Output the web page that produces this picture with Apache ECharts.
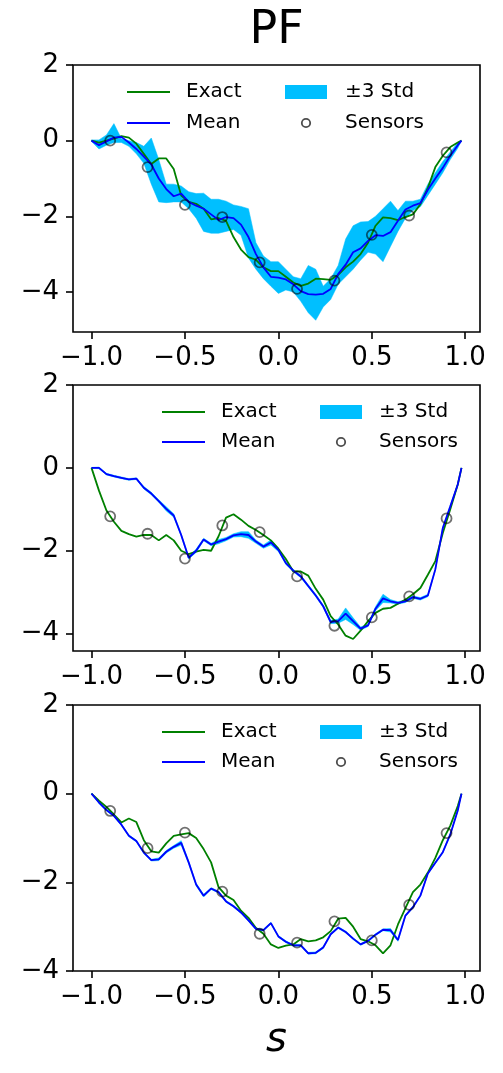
<!DOCTYPE html>
<html><head><meta charset="utf-8">
<script src="https://cdn.jsdelivr.net/npm/echarts@6/dist/echarts.min.js"></script>
<style>html,body{margin:0;padding:0;background:#fff}#c{width:503px;height:1073px}</style>
</head><body><div id="c"></div>
<script>
const xs = [-1,-0.96,-0.92,-0.88,-0.84,-0.8,-0.76,-0.72,-0.68,-0.64,-0.6,-0.56,-0.52,-0.48,-0.44,-0.4,-0.36,-0.32,-0.28,-0.24,-0.2,-0.16,-0.12,-0.08,-0.04,0,0.04,0.08,0.12,0.16,0.2,0.24,0.28,0.32,0.36,0.4,0.44,0.48,0.52,0.56,0.6,0.64,0.68,0.72,0.76,0.8,0.84,0.88,0.92,0.96,0.98];
const sensorX = [-0.9,-0.7,-0.5,-0.3,-0.1,0.1,0.3,0.5,0.7,0.9];
const xTicks = [-1,-0.5,0,0.5,1];
const yTicks = [2,0,-2,-4];

// Panel 1
const exact1 = [0,-0.05,0.0,0.05,0.12,0.08,-0.08,-0.35,-0.62,-0.47,
 -0.47,-0.75,-1.45,-1.62,-1.67,-1.80,-2.08,-2.05,-2.12,-2.55,
 -2.88,-3.08,-3.15,-3.35,-3.45,-3.45,-3.60,-3.75,-3.84,-3.78,
 -3.65,-3.66,-3.68,-3.55,-3.35,-3.20,-3.00,-2.70,-2.25,-2.03,
 -2.05,-2.10,-2.02,-1.95,-1.68,-1.25,-0.70,-0.40,-0.17,-0.05,0];
const mean1 = [0,-0.12,-0.02,0.08,0.10,-0.05,-0.22,-0.42,-0.63,-1.00,
 -1.28,-1.47,-1.40,-1.62,-1.72,-1.80,-1.95,-2.10,-2.02,-2.05,
 -2.22,-2.55,-3.00,-3.35,-3.60,-3.62,-3.67,-3.80,-3.98,-4.06,
 -4.07,-4.05,-3.92,-3.53,-3.28,-2.95,-2.85,-2.65,-2.50,-2.52,
 -2.42,-2.12,-1.82,-1.72,-1.65,-1.30,-1.00,-0.72,-0.40,-0.12,0];
const upper1 = [0.02,0.02,0.15,0.45,0.05,0.0,-0.05,-0.15,0.07,-0.50,
 -1.15,-1.15,-1.20,-1.35,-1.40,-1.39,-1.55,-1.55,-1.60,-1.70,
 -1.74,-1.80,-2.70,-3.05,-3.20,-3.20,-3.40,-3.60,-3.65,-3.30,
 -3.40,-3.85,-3.65,-3.30,-2.60,-2.25,-2.15,-2.14,-2.00,-1.80,
 -1.60,-1.85,-1.60,-1.60,-1.55,-1.15,-0.85,-0.55,-0.30,-0.05,0];
const lower1 = [-0.02,-0.22,-0.12,-0.05,-0.05,-0.15,-0.35,-0.60,-1.15,-1.62,
 -1.64,-1.62,-1.62,-1.80,-2.05,-2.40,-2.45,-2.45,-2.40,-2.35,
 -2.50,-3.10,-3.40,-3.65,-3.85,-4.04,-3.95,-4.00,-4.25,-4.55,
 -4.75,-4.40,-4.20,-3.80,-3.60,-3.40,-3.16,-2.95,-3.00,-3.20,
 -2.80,-2.40,-2.05,-1.85,-1.75,-1.45,-1.15,-0.85,-0.50,-0.20,0];
const sensors1 = [0.0,-0.70,-1.70,-2.02,-3.22,-3.92,-3.70,-2.49,-1.98,-0.31];

// Panel 2
const exact2 = [0,-0.55,-1.03,-1.30,-1.52,-1.60,-1.66,-1.62,-1.62,-1.75,
 -1.62,-1.75,-2.00,-2.08,-2.02,-1.98,-2.00,-1.65,-1.20,-1.12,
 -1.25,-1.40,-1.50,-1.62,-1.75,-1.95,-2.20,-2.50,-2.50,-2.60,
 -2.92,-3.18,-3.58,-3.78,-4.05,-4.13,-3.93,-3.70,-3.50,-3.40,
 -3.38,-3.28,-3.18,-3.05,-2.90,-2.58,-2.25,-1.57,-1.00,-0.40,0];
const mean2 = [0,0.0,-0.15,-0.20,-0.24,-0.28,-0.26,-0.48,-0.62,-0.80,
 -0.99,-1.15,-1.62,-2.17,-2.00,-1.73,-1.85,-1.78,-1.72,-1.63,
 -1.60,-1.62,-1.78,-1.90,-1.80,-1.98,-2.30,-2.48,-2.62,-2.85,
 -3.08,-3.34,-3.72,-3.70,-3.52,-3.70,-3.88,-3.80,-3.40,-3.15,
 -3.22,-3.26,-3.22,-3.12,-3.16,-3.08,-2.45,-1.45,-0.93,-0.40,0];
const halfBand2 = [0.01,0.02,0.02,0.02,0.02,0.02,0.02,0.03,0.03,0.03,
 0.05,0.04,0.03,0.03,0.04,0.03,0.03,0.05,0.04,0.04,
 0.06,0.08,0.04,0.04,0.06,0.04,0.03,0.03,0.03,0.03,
 0.03,0.03,0.04,0.05,0.14,0.08,0.04,0.03,0.05,0.10,
 0.04,0.03,0.03,0.03,0.03,0.03,0.03,0.03,0.03,0.02,0];
const sensors2 = [-1.17,-1.59,-2.19,-1.39,-1.55,-2.62,-3.81,-3.61,-3.10,-1.22];

// Panel 3
const exact3 = [0,-0.16,-0.30,-0.47,-0.65,-0.56,-0.64,-1.05,-1.30,-1.33,
 -1.12,-0.95,-0.92,-0.89,-1.00,-1.25,-1.55,-2.11,-2.30,-2.40,
 -2.64,-2.80,-3.03,-3.16,-3.40,-3.48,-3.43,-3.40,-3.28,-3.33,
 -3.31,-3.24,-3.10,-2.82,-2.80,-3.00,-3.28,-3.33,-3.42,-3.60,
 -3.42,-2.95,-2.58,-2.22,-2.05,-1.78,-1.45,-1.05,-0.72,-0.28,0];
const mean3 = [0,-0.20,-0.37,-0.50,-0.70,-0.95,-1.07,-1.33,-1.50,-1.48,
 -1.31,-1.20,-1.11,-1.55,-2.05,-2.30,-2.14,-2.22,-2.43,-2.54,
 -2.68,-2.86,-3.05,-3.08,-2.92,-3.22,-3.34,-3.42,-3.42,-3.60,
 -3.59,-3.47,-3.17,-3.02,-3.12,-3.27,-3.40,-3.32,-3.18,-3.07,
 -3.08,-3.30,-2.75,-2.56,-2.30,-1.80,-1.56,-1.32,-0.92,-0.38,0];
const halfBand3 = [0.01,0.02,0.02,0.02,0.02,0.02,0.02,0.02,0.02,0.03,
 0.03,0.03,0.05,0.03,0.03,0.03,0.02,0.02,0.02,0.02,
 0.02,0.02,0.02,0.02,0.02,0.02,0.02,0.02,0.02,0.02,
 0.02,0.02,0.02,0.02,0.02,0.02,0.02,0.02,0.02,0.02,
 0.04,0.03,0.02,0.02,0.02,0.02,0.02,0.02,0.02,0.02,0];
const sensors3 = [-0.39,-1.23,-0.88,-2.21,-3.16,-3.36,-2.88,-3.31,-2.51,-0.89];

const FONT = '"DejaVu Sans", sans-serif';
const panels = [
  {top:65, height:267, ymin:-5.06, ymax:2, exact:exact1, mean:mean1,
   hi:upper1, lo:lower1, sensors:sensors1,
   leg:{lx0:127,lx1:170,tx:186,rx0:285,rx1:327,cx:306,t2x:345,r1:92,r2:123}},
  {top:385, height:266, ymin:-4.42, ymax:2, exact:exact2, mean:mean2,
   hi:mean2.map((m,i)=>m+halfBand2[i]), lo:mean2.map((m,i)=>m-halfBand2[i]), sensors:sensors2,
   leg:{lx0:162,lx1:205,tx:221,rx0:320,rx1:362,cx:341,t2x:379,r1:412,r2:442}},
  {top:705, height:266, ymin:-4, ymax:2, exact:exact3, mean:mean3,
   hi:mean3.map((m,i)=>m+halfBand3[i]), lo:mean3.map((m,i)=>m-halfBand3[i]), sensors:sensors3,
   leg:{lx0:162,lx1:205,tx:221,rx0:320,rx1:362,cx:341,t2x:379,r1:732,r2:762}}
];

const fmtX = v => (v < 0 ? '\u2212' : '') + Math.abs(v).toFixed(1);
const fmtY = v => (v < 0 ? '\u2212' : '') + Math.abs(v).toFixed(0);

const grid = [], xAxis = [], yAxis = [], series = [], graphic = [];
panels.forEach((p, i) => {
  grid.push({left:73, top:p.top, width:407, height:p.height, show:true,
    borderColor:'#000', borderWidth:1.6, backgroundColor:'transparent'});
  const xa = {type:'value', gridIndex:i, min:-1.099, max:1.079, position:'bottom',
    axisLine:{show:false, onZero:false}, splitLine:{show:false},
    axisTick:{show:true, length:7, customValues:xTicks, lineStyle:{color:'#000', width:1.6}},
    axisLabel:{customValues:xTicks, formatter:fmtX, fontSize:26, color:'#000', margin:13, fontFamily:FONT}};
  if (i === 2) {
    xa.name = 's'; xa.nameLocation = 'middle'; xa.nameGap = 50;
    xa.nameTextStyle = {fontSize:40, fontStyle:'italic', fontFamily:FONT, color:'#000'};
  }
  xAxis.push(xa);
  yAxis.push({type:'value', gridIndex:i, min:p.ymin, max:p.ymax, position:'left',
    axisLine:{show:false, onZero:false}, splitLine:{show:false},
    axisTick:{show:true, length:7, customValues:yTicks, lineStyle:{color:'#000', width:1.6}},
    axisLabel:{customValues:yTicks, formatter:fmtY, fontSize:26, color:'#000', margin:14, fontFamily:FONT}});
  const bandData = xs.map((x,k)=>[x, p.lo[k], p.hi[k]]);
  series.push({type:'custom', xAxisIndex:i, yAxisIndex:i, silent:true, z:1,
    data: bandData, encode:{x:0, y:[1,2]},
    renderItem: (params, api) => {
      if (params.dataIndex !== 0) return null;
      const pts = [];
      for (let k = 0; k < bandData.length; k++) pts.push(api.coord([bandData[k][0], bandData[k][2]]));
      for (let k = bandData.length - 1; k >= 0; k--) pts.push(api.coord([bandData[k][0], bandData[k][1]]));
      return {type:'polygon', shape:{points:pts}, style:{fill:'#00bfff', stroke:'#00bfff', lineWidth:0.5}};
    }});
  series.push({type:'line', xAxisIndex:i, yAxisIndex:i, showSymbol:false, symbol:'none', silent:true, z:2,
    data: xs.map((x,k)=>[x, p.exact[k]]), lineStyle:{color:'#008000', width:1.8}});
  series.push({type:'line', xAxisIndex:i, yAxisIndex:i, showSymbol:false, symbol:'none', silent:true, z:3,
    data: xs.map((x,k)=>[x, p.mean[k]]), lineStyle:{color:'#0000ff', width:1.8}});
  series.push({type:'scatter', xAxisIndex:i, yAxisIndex:i, silent:true, z:4, symbol:'circle', symbolSize:10,
    data: sensorX.map((x,k)=>[x, p.sensors[k]]),
    itemStyle:{color:'rgba(0,0,0,0)', borderColor:'rgba(0,0,0,0.7)', borderWidth:1.8}});
  const L = p.leg;
  const tstyle = (t, x, y) => ({type:'text', x:x, y:y, z:10,
    style:{text:t, font:'20px ' + FONT, fill:'#000', textAlign:'left', textVerticalAlign:'middle', align:'left', verticalAlign:'middle'}});
  graphic.push({type:'line', z:10, shape:{x1:L.lx0, y1:L.r1, x2:L.lx1, y2:L.r1}, style:{stroke:'#008000', lineWidth:1.8}});
  graphic.push(tstyle('Exact', L.tx, L.r1));
  graphic.push({type:'line', z:10, shape:{x1:L.lx0, y1:L.r2, x2:L.lx1, y2:L.r2}, style:{stroke:'#0000ff', lineWidth:1.8}});
  graphic.push(tstyle('Mean', L.tx, L.r2));
  graphic.push({type:'rect', z:10, shape:{x:L.rx0, y:L.r1-7, width:L.rx1-L.rx0, height:14}, style:{fill:'#00bfff'}});
  graphic.push(tstyle('\u00b13 Std', L.t2x, L.r1));
  graphic.push({type:'circle', z:10, shape:{cx:L.cx, cy:L.r2, r:4.2}, style:{fill:'none', stroke:'rgba(0,0,0,0.7)', lineWidth:1.8}});
  graphic.push(tstyle('Sensors', L.t2x, L.r2));
});
graphic.push({type:'text', x:276.5, y:31, z:10,
  style:{text:'PF', font:'46px ' + FONT, fill:'#000', textAlign:'center', textVerticalAlign:'middle', align:'center', verticalAlign:'middle'}});

const chart = echarts.init(document.getElementById('c'), null, {renderer:'canvas'});
chart.setOption({animation:false, backgroundColor:'#fff', grid, xAxis, yAxis, series, graphic});
</script>
</body></html>
